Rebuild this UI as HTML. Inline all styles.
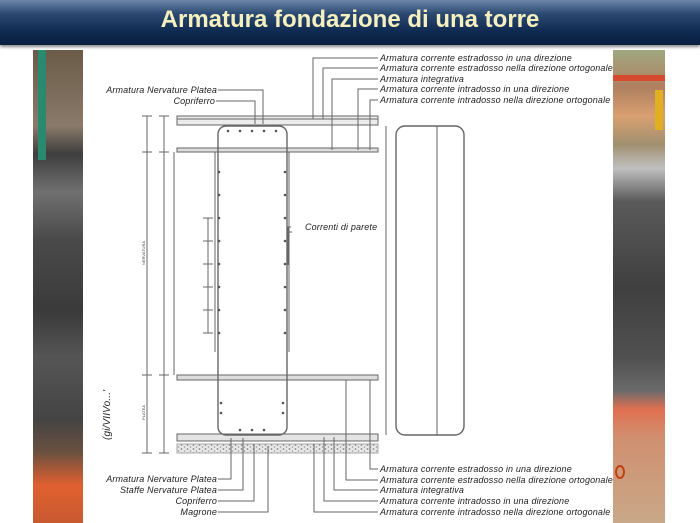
<!DOCTYPE html>
<html><head><meta charset="utf-8"><style>
html,body{margin:0;padding:0;background:#fff;}
body{width:700px;height:523px;overflow:hidden;position:relative;font-family:"Liberation Sans",sans-serif;}
#title{position:absolute;left:0;top:0;width:700px;height:45px;background:linear-gradient(#6d86a8 0%,#2c4a72 30%,#0f2a50 70%,#0a1f40 100%);box-shadow:0 2px 3px #888;}
#title div{position:absolute;left:0;right:0;top:6px;text-align:center;font-weight:bold;font-size:24px;color:#f5f0c0;}
.ph{position:absolute;}
</style></head><body>
<div id="title"><div>Armatura fondazione di una torre</div></div>
<div class="ph" style="left:33px;top:50px;width:50px;height:473px;background:linear-gradient(#6a5a48 0%,#7a6a58 8%,#8a7a6a 16%,#3e3e3e 22%,#707070 30%,#4a4a4a 40%,#3a3a3a 55%,#555 65%,#444 78%,#6a5040 85%,#e06030 92%,#c85a30 100%);"></div>
<div class="ph" style="left:38px;top:50px;width:8px;height:110px;background:#2a8a70;"></div>
<div class="ph" style="left:613px;top:50px;width:52px;height:473px;background:linear-gradient(#a0a880 0%,#b08060 8%,#d9a070 14%,#a09070 20%,#c0c0c0 25%,#5a5a5a 32%,#404040 50%,#505050 65%,#6a6a6a 72%,#e07050 76%,#d09070 82%,#c8a888 100%);"></div>
<div class="ph" style="left:613px;top:75px;width:52px;height:6px;background:#d84a30;"></div>
<div class="ph" style="left:655px;top:90px;width:8px;height:40px;background:#e0b020;"></div>
<svg style="position:absolute;left:0;top:0" width="700" height="523" viewBox="0 0 700 523">
<defs><pattern id="h" width="6" height="4" patternUnits="userSpaceOnUse"><rect width="6" height="4" fill="#e8e8e8"/><circle cx="1.5" cy="1" r="0.9" fill="#888"/><circle cx="4.5" cy="3" r="0.8" fill="#999"/></pattern></defs>
<g stroke="#666" fill="none" stroke-width="1">
<rect x="177" y="116" width="201" height="9" fill="#ececec"/>
<line x1="177" y1="119" x2="378" y2="119"/>
<rect x="177" y="148" width="201" height="4" fill="#ddd"/>
<rect x="177" y="375" width="201" height="5" fill="#ddd"/>
<rect x="177" y="434" width="201" height="7" fill="#e4e4e4"/>
<rect x="177" y="444" width="201" height="9" fill="url(#h)" stroke="#aaa"/>
<path d="M174 152 V375 M177 152 H215 V345 M289 345 V152 H378"/>
<path d="M177 375 H215 M289 375 H378" />
<rect x="218" y="126" width="69" height="309" rx="8" stroke-width="1.4"/>
<path d="M215 152 V352 M289 152 V352"/>
<line x1="386" y1="126" x2="386" y2="435"/>
<rect x="396" y="126" width="68" height="309" rx="9" stroke-width="1.4"/>
<line x1="437" y1="126" x2="437" y2="435"/>
<path d="M147 116 V453 M164 116 V453 M208 218 V333 M142 116 H152 M142 152 H152 M142 375 H152 M142 453 H152 M159 116 H169 M159 152 H169 M159 375 H169 M159 453 H169 M203 218 H213 M203 241 H213 M203 264 H213 M203 287 H213 M203 310 H213 M203 333 H213"/>
<path d="M378 58 H313 V119 M378 68 H323 V119 M378 79 H332 V150 M378 89 H358 V150 M378 100 H370 V150 M218 90 H263 V124 M216 101 H255 V124"/>
<path d="M378 469 H370 V380 M378 480 H346 V380 M378 490 H334 V437 M378 501 H324 V437 M378 512 H314 V444"/>
<path d="M218 479 H231 V438 M218 490 H243 V438 M218 501 H254 V444 M218 512 H268 V446"/>
<path d="M291 227 H288 V265 M288 232 H292"/>
</g>
<g fill="#555">
<circle cx="240" cy="131" r="1.3"/><circle cx="252" cy="131" r="1.3"/><circle cx="264" cy="131" r="1.3"/><circle cx="276" cy="131" r="1.3"/><circle cx="228" cy="131" r="1.3"/>
<circle cx="219" cy="172" r="1.3"/><circle cx="219" cy="195" r="1.3"/><circle cx="219" cy="218" r="1.3"/><circle cx="219" cy="241" r="1.3"/><circle cx="219" cy="264" r="1.3"/><circle cx="219" cy="287" r="1.3"/><circle cx="219" cy="310" r="1.3"/><circle cx="219" cy="333" r="1.3"/>
<circle cx="285" cy="172" r="1.3"/><circle cx="285" cy="195" r="1.3"/><circle cx="285" cy="218" r="1.3"/><circle cx="285" cy="241" r="1.3"/><circle cx="285" cy="264" r="1.3"/><circle cx="285" cy="287" r="1.3"/><circle cx="285" cy="310" r="1.3"/><circle cx="285" cy="333" r="1.3"/>
<circle cx="221" cy="403" r="1.3"/><circle cx="221" cy="413" r="1.3"/><circle cx="283" cy="403" r="1.3"/><circle cx="283" cy="413" r="1.3"/>
<circle cx="240" cy="430" r="1.3"/><circle cx="252" cy="430" r="1.3"/><circle cx="264" cy="430" r="1.3"/>
</g>
<g font-family="Liberation Sans,sans-serif" font-style="italic" font-size="9" fill="#222" letter-spacing="0.15">
<text x="380" y="61">Armatura corrente estradosso in una direzione</text>
<text x="380" y="71">Armatura corrente estradosso nella direzione ortogonale</text>
<text x="380" y="82">Armatura integrativa</text>
<text x="380" y="92">Armatura corrente intradosso in una direzione</text>
<text x="380" y="103">Armatura corrente intradosso nella direzione ortogonale</text>
<text x="217" y="93" text-anchor="end">Armatura Nervature Platea</text>
<text x="215" y="104" text-anchor="end">Copriferro</text>
<text x="305" y="230">Correnti di parete</text>
<text x="380" y="472">Armatura corrente estradosso in una direzione</text>
<text x="380" y="483">Armatura corrente estradosso nella direzione ortogonale</text>
<text x="380" y="493">Armatura integrativa</text>
<text x="380" y="504">Armatura corrente intradosso in una direzione</text>
<text x="380" y="515">Armatura corrente intradosso nella direzione ortogonale</text>
<text x="217" y="482" text-anchor="end">Armatura Nervature Platea</text>
<text x="217" y="493" text-anchor="end">Staffe Nervature Platea</text>
<text x="217" y="504" text-anchor="end">Copriferro</text>
<text x="217" y="515" text-anchor="end">Magrone</text>
<text transform="translate(110,440) rotate(-90)" font-size="10">(gi/VIIVo...'</text>
</g>
<g font-family="Liberation Sans,sans-serif" font-size="4" fill="#444">
<text transform="translate(145,265) rotate(-90)">NERVATURA</text>
<text transform="translate(145,420) rotate(-90)">PLATEA</text>
</g>
<ellipse cx="620" cy="472" rx="4" ry="6" fill="none" stroke="#c04010" stroke-width="2"/>
</svg>
</body></html>
